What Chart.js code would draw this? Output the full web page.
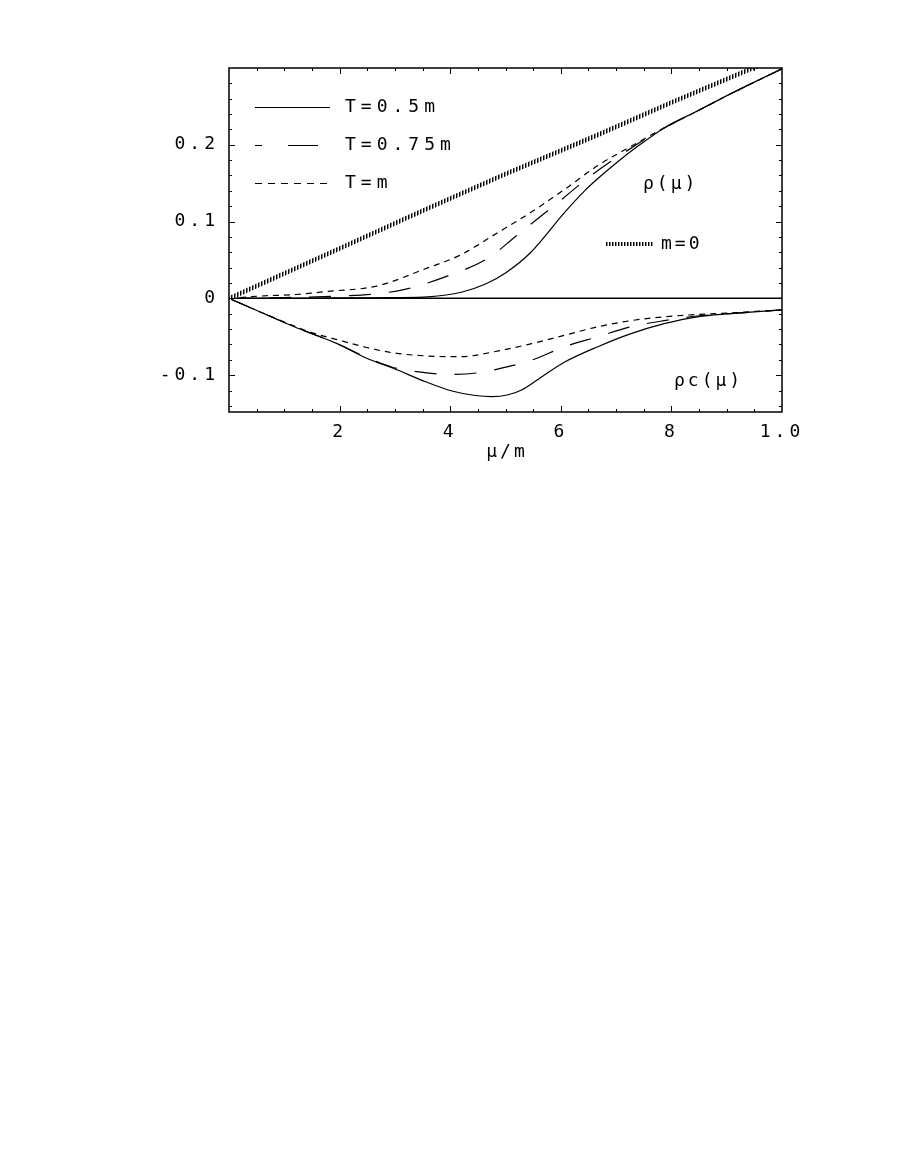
<!DOCTYPE html>
<html>
<head>
<meta charset="utf-8">
<script src="https://cdn.jsdelivr.net/npm/chart.js@4.4.1/dist/chart.umd.min.js"></script>
<style>
  html, body { margin: 0; padding: 0; background: #fff; }
  #wrap { width: 905px; height: 1171px; position: relative; }
</style>
</head>
<body>
<div id="wrap"><canvas id="chart"></canvas></div>
<script>
// axis ticks
const xTickValues = [2, 4, 6, 8, 10];
const xTickLabels = ["2", "4", "6", "8", "1.0"];
const yTickValues = [-0.1, 0, 0.1, 0.2];
const yTickLabels = ["-0.1", "0", "0.1", "0.2"];

// m = 0 (massless) density
const masslessX = [0, 2, 3.5, 5, 6.67, 8, 10];
const masslessY = [0, 0.065, 0.114, 0.162, 0.213, 0.255, 0.316];

// rho(mu), T = 0.5m
const rhoX05 = [0, 1, 2, 3, 3.6, 4.2, 4.65, 5.0, 5.46, 6.07, 6.43, 6.67, 7.03, 7.39, 7.87, 8.47, 9.06, 10];
const rho05 = [0, 0, 0.0005, 0.001, 0.002, 0.008, 0.019, 0.033, 0.06, 0.112, 0.140, 0.156, 0.178, 0.198, 0.222, 0.244, 0.266, 0.299];

// rho(mu), T = 0.75m
const rhoX075 = [0, 1, 2, 2.67, 3.2, 3.87, 4.7, 5.17, 5.95, 6.55, 7.15, 7.75, 8.47, 9.06, 10];
const rho075 = [0, 0.001, 0.003, 0.006, 0.012, 0.027, 0.053, 0.08, 0.125, 0.16, 0.19, 0.217, 0.244, 0.266, 0.299];

// rho(mu), T = m
const rhoX1 = [0, 0.57, 1.2, 1.78, 2.67, 3.57, 4.17, 4.87, 5.46, 6.07, 6.67, 7.27, 7.87, 8.47, 9.06, 10];
const rho1 = [0, 0.003, 0.005, 0.009, 0.016, 0.039, 0.056, 0.086, 0.112, 0.142, 0.173, 0.198, 0.222, 0.244, 0.266, 0.299];

// rho_c(mu), T = 0.5m
const rhocX05 = [0, 0.575, 1.18, 1.955, 2.49, 2.97, 3.57, 4.05, 4.45, 4.75, 5.05, 5.3, 5.6, 6.07, 6.67, 7.27, 7.87, 8.47, 9.06, 10];
const rhoc05 = [0, -0.018, -0.037, -0.059, -0.078, -0.091, -0.109, -0.121, -0.1265, -0.128, -0.1255, -0.119, -0.105, -0.083, -0.063, -0.046, -0.033, -0.024, -0.020, -0.015];

// rho_c(mu), T = 0.75m
const rhocX075 = [0, 0.575, 1.18, 1.955, 2.49, 2.97, 3.57, 4.0, 4.5, 5.1, 5.53, 6.07, 6.67, 7.27, 7.87, 8.47, 9.06, 10];
const rhoc075 = [0, -0.018, -0.037, -0.059, -0.077, -0.090, -0.097, -0.099, -0.097, -0.088, -0.079, -0.063, -0.050, -0.037, -0.029, -0.023, -0.020, -0.015];

// rho_c(mu), T = m
const rhocX1 = [0, 0.575, 1.18, 1.47, 2.07, 2.49, 2.97, 3.57, 4.17, 4.87, 5.47, 6.07, 6.67, 7.27, 7.87, 8.47, 9.06, 10];
const rhoc1 = [0, -0.018, -0.036, -0.044, -0.056, -0.064, -0.071, -0.075, -0.076, -0.0685, -0.059, -0.048, -0.037, -0.029, -0.024, -0.021, -0.019, -0.015];

// zero line
const zeroX = [0, 10];
const zeroY = [0, 0];

const FONT = "'DejaVu Sans Mono', 'Liberation Mono', monospace";

function pts(xs, ys) {
  return xs.map((x, i) => ({ x: x, y: ys[i] }));
}

function hatchPattern() {
  const c = document.createElement("canvas");
  c.width = 3;
  c.height = 3;
  const g = c.getContext("2d");
  g.fillStyle = "#fff";
  g.fillRect(0, 0, 3, 3);
  g.fillStyle = "#000";
  g.fillRect(0, 0, 1, 3);
  g.fillStyle = "#888";
  g.fillRect(1, 0, 1, 3);
  return g.createPattern(c, "repeat");
}

const hatch = hatchPattern();
const SHORT_DASH = [6, 5];
const LONG_DASH = [22, 18];

function line(data, opts) {
  return Object.assign({
    data: data,
    borderColor: "#000",
    borderWidth: 1.2,
    pointRadius: 0,
    fill: false,
    cubicInterpolationMode: "monotone",
    clip: 0,
  }, opts);
}

const frame = {
  id: "frame",
  beforeDraw(chart) {
    chart.ctx.letterSpacing = "4px";
  },
  afterDraw(chart) {
    const ctx = chart.ctx;
    const a = chart.chartArea;
    const xs = chart.scales.x;
    const ys = chart.scales.y;
    ctx.save();
    ctx.strokeStyle = "#000";
    ctx.lineWidth = 1;
    ctx.setLineDash([]);
    ctx.beginPath();
    // inward ticks, all four sides
    for (let v = 0.5; v < 10; v += 0.5) {
      const px = Math.round(xs.getPixelForValue(v)) + 0.5;
      const len = Math.abs(v % 2) < 1e-9 ? 6 : 3;
      ctx.moveTo(px, a.bottom);
      ctx.lineTo(px, a.bottom - len);
      ctx.moveTo(px, a.top);
      ctx.lineTo(px, a.top + len);
    }
    for (let k = -7; k <= 14; k++) {
      const v = k * 0.02;
      const py = Math.round(ys.getPixelForValue(v)) + 0.5;
      const len = k % 5 === 0 ? 6 : 3;
      ctx.moveTo(a.left, py);
      ctx.lineTo(a.left + len, py);
      ctx.moveTo(a.right, py);
      ctx.lineTo(a.right - len, py);
    }
    ctx.stroke();
    ctx.lineWidth = 1.5;
    ctx.strokeRect(a.left, a.top, a.right - a.left, a.bottom - a.top);

    // legend
    const rows = [
      { y: 107, label: "T=0.5m", dash: [], offset: 0 },
      { y: 145, label: "T=0.75m", dash: [30, 26], offset: 23 },
      { y: 183, label: "T=m", dash: [7, 6], offset: 0 },
    ];
    ctx.lineWidth = 1.2;
    ctx.font = "18px " + FONT;
    ctx.fillStyle = "#000";
    ctx.textBaseline = "middle";
    ctx.textAlign = "left";
    ctx.letterSpacing = "5px";
    rows.forEach((r) => {
      ctx.setLineDash(r.dash);
      ctx.lineDashOffset = r.offset;
      ctx.beginPath();
      ctx.moveTo(255, r.y + 0.5);
      ctx.lineTo(330, r.y + 0.5);
      ctx.stroke();
      ctx.fillText(r.label, 345, r.y);
    });
    ctx.setLineDash([]);
    ctx.lineDashOffset = 0;

    // m=0 key
    ctx.strokeStyle = hatch;
    ctx.lineWidth = 4;
    ctx.beginPath();
    ctx.moveTo(605, 244);
    ctx.lineTo(653, 244);
    ctx.stroke();
    ctx.letterSpacing = "3px";
    ctx.fillText("m=0", 661, 244);

    // curve names
    ctx.fillText("\u03c1(\u03bc)", 643, 184);
    ctx.fillText("\u03c1c(\u03bc)", 674, 381);

    // axis title
    ctx.textAlign = "center";
    ctx.fillText("\u03bc/m", 507, 452);
    ctx.restore();
  },
};

new Chart(document.getElementById("chart"), {
  type: "line",
  data: {
    datasets: [
      line(pts(masslessX, masslessY), { borderColor: hatch, borderWidth: 4.5, cubicInterpolationMode: "default", tension: 0 }),
      line(pts(zeroX, zeroY), { borderWidth: 1.5, tension: 0 }),
      line(pts(rhoX05, rho05), {}),
      line(pts(rhoX075, rho075), { borderDash: LONG_DASH }),
      line(pts(rhoX1, rho1), { borderDash: SHORT_DASH }),
      line(pts(rhocX05, rhoc05), {}),
      line(pts(rhocX075, rhoc075), { borderDash: LONG_DASH }),
      line(pts(rhocX1, rhoc1), { borderDash: SHORT_DASH }),
    ],
  },
  options: {
    responsive: true,
    maintainAspectRatio: false,
    animation: false,
    events: [],
    layout: { padding: { top: 68, right: 123, bottom: 699, left: 0 } },
    plugins: { legend: { display: false }, tooltip: { enabled: false } },
    scales: {
      x: {
        type: "linear",
        min: 0,
        max: 10,
        grid: { display: false, drawTicks: false },
        border: { display: false },
        afterFit: (s) => { s.height = 60; },
        afterBuildTicks: (s) => { s.ticks = xTickValues.map((v) => ({ value: v })); },
        ticks: {
          autoSkip: false,
          maxRotation: 0,
          padding: 10,
          color: "#000",
          font: { family: FONT, size: 18 },
          callback: (v) => xTickLabels[xTickValues.indexOf(v)],
        },
      },
      y: {
        type: "linear",
        min: -0.148,
        max: 0.3,
        grid: { display: false, drawTicks: false },
        border: { display: false },
        afterFit: (s) => { s.width = 229; },
        afterBuildTicks: (s) => { s.ticks = yTickValues.map((v) => ({ value: v })); },
        ticks: {
          autoSkip: false,
          padding: 10,
          color: "#000",
          font: { family: FONT, size: 18 },
          callback: (v) => yTickLabels[yTickValues.indexOf(v)],
        },
      },
    },
  },
  plugins: [frame],
});
</script>
</body>
</html>
